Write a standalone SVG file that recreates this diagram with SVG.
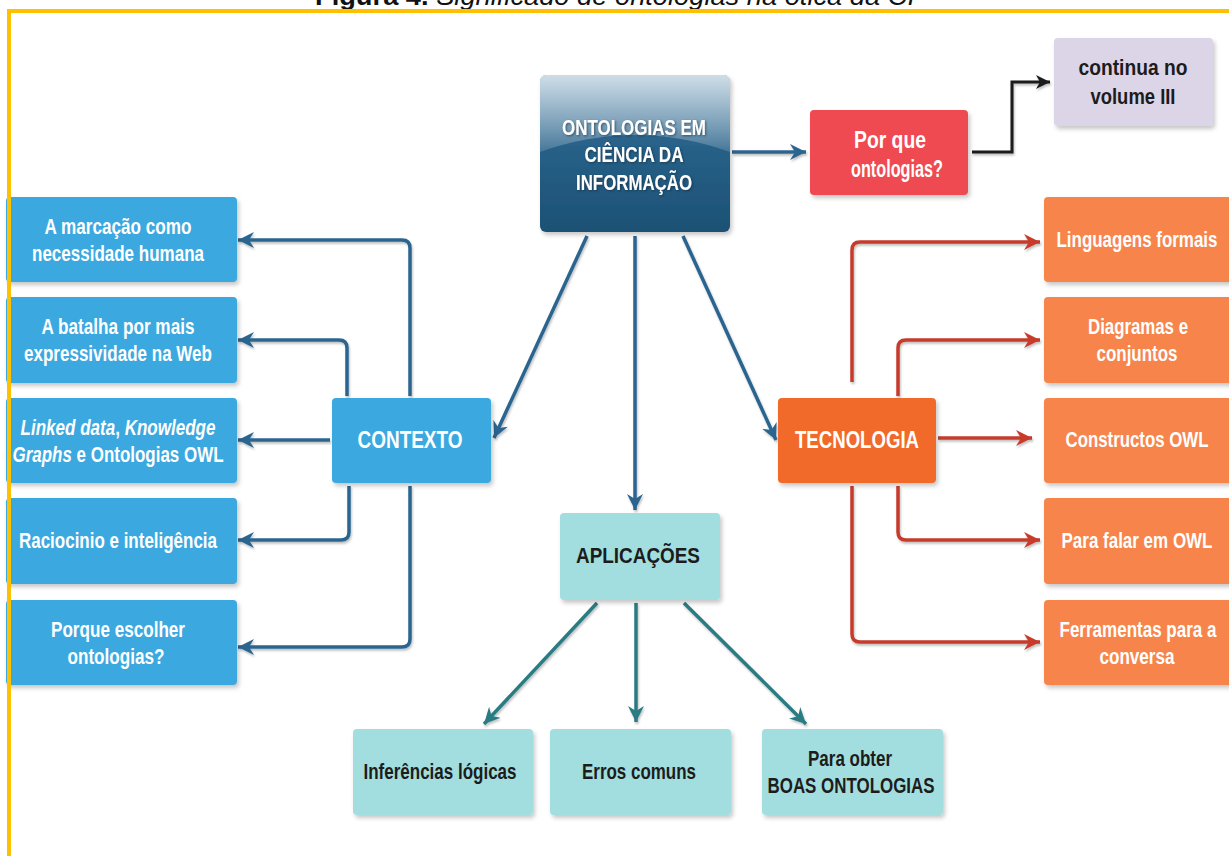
<svg xmlns="http://www.w3.org/2000/svg" width="1229" height="856" viewBox="0 0 1229 856">
  <defs>
    <style>
      .t { font-family: "Liberation Sans", Arial, sans-serif; font-weight: bold; text-anchor: middle; font-size: 22px; }
      .big { font-size: 24px; }
      .w { fill: #ffffff; }
      .d { fill: #1c1c1c; }
      .blue { fill: #3aa8df; }
      .orange { fill: #f7854b; }
      .teal { fill: #a2dedf; }
      .cb { fill: none; stroke: #2b6590; stroke-width: 3.5; stroke-linejoin: round; }
      .cr { fill: none; stroke: #c73a2c; stroke-width: 3.5; stroke-linejoin: round; }
      .ct { fill: none; stroke: #2a7b83; stroke-width: 3.5; }
      .ck { fill: none; stroke: #1a1a1a; stroke-width: 3; }
    </style>
    <filter id="shadow" x="-10%" y="-10%" width="125%" height="130%">
      <feDropShadow dx="2" dy="3" stdDeviation="2" flood-color="#000" flood-opacity="0.22"/>
    </filter>
    <filter id="lshadow" x="-10%" y="-10%" width="120%" height="120%">
      <feDropShadow dx="1" dy="2" stdDeviation="1.2" flood-color="#000" flood-opacity="0.25"/>
    </filter>
    <filter id="tshadow" x="-10%" y="-30%" width="120%" height="160%">
      <feDropShadow dx="1" dy="1" stdDeviation="0.8" flood-color="#0b2536" flood-opacity="0.6"/>
    </filter>
    <linearGradient id="hubBase" x1="0" y1="0" x2="0" y2="1">
      <stop offset="0" stop-color="#3d78a0"/>
      <stop offset="0.5" stop-color="#265f86"/>
      <stop offset="1" stop-color="#1c5174"/>
    </linearGradient>
    <linearGradient id="hubGloss" x1="0" y1="0" x2="0" y2="1">
      <stop offset="0" stop-color="#ffffff" stop-opacity="0.75"/>
      <stop offset="1" stop-color="#ffffff" stop-opacity="0.15"/>
    </linearGradient>
    <marker id="ab" markerUnits="userSpaceOnUse" markerWidth="18" markerHeight="18" refX="16" refY="9" orient="auto">
      <path d="M0,1 L16,9 L0,17 L5,9 Z" fill="#2b6590"/>
    </marker>
    <marker id="ar" markerUnits="userSpaceOnUse" markerWidth="18" markerHeight="18" refX="16" refY="9" orient="auto">
      <path d="M0,1 L16,9 L0,17 L5,9 Z" fill="#c73a2c"/>
    </marker>
    <marker id="at" markerUnits="userSpaceOnUse" markerWidth="18" markerHeight="18" refX="16" refY="9" orient="auto">
      <path d="M0,1 L16,9 L0,17 L5,9 Z" fill="#2a7b83"/>
    </marker>
    <marker id="ak" markerUnits="userSpaceOnUse" markerWidth="16" markerHeight="16" refX="14" refY="8" orient="auto">
      <path d="M0,1 L14,8 L0,15 L4,8 Z" fill="#1a1a1a"/>
    </marker>
  </defs>

  <rect width="1229" height="856" fill="#ffffff"/>

  <!-- caption, clipped at the top edge -->
  <text x="315" y="5" font-family="Liberation Sans, Arial, sans-serif" font-size="26" fill="#111" textLength="600" lengthAdjust="spacingAndGlyphs"><tspan font-weight="bold">Figura 4.</tspan><tspan font-style="italic"> Significado de ontologias na ótica da CI</tspan></text>

  <!-- connectors -->
  <g id="connectors" filter="url(#lshadow)">
    <path class="cb" d="M732,152 H806" marker-end="url(#ab)"/>
    <path class="cb" d="M587,236 L494,438" marker-end="url(#ab)"/>
    <path class="cb" d="M635,236 V510" marker-end="url(#ab)"/>
    <path class="cb" d="M683,236 L776,440" marker-end="url(#ab)"/>
    <path class="ck" d="M972,152 H1012 V82 H1050" marker-end="url(#ak)"/>

    <path class="cb" d="M410,396 V248 Q410,240 402,240 H238" marker-end="url(#ab)"/>
    <path class="cb" d="M347,396 V348 Q347,340 339,340 H238" marker-end="url(#ab)"/>
    <path class="cb" d="M330,440 H238" marker-end="url(#ab)"/>
    <path class="cb" d="M349,486 V532 Q349,540 341,540 H238" marker-end="url(#ab)"/>
    <path class="cb" d="M410,486 V639 Q410,647 402,647 H238" marker-end="url(#ab)"/>

    <path class="cr" d="M852,382 V250 Q852,242 860,242 H1040" marker-end="url(#ar)"/>
    <path class="cr" d="M898,396 V348 Q898,340 906,340 H1040" marker-end="url(#ar)"/>
    <path class="cr" d="M938,438 H1032" marker-end="url(#ar)"/>
    <path class="cr" d="M898,486 V532 Q898,540 906,540 H1040" marker-end="url(#ar)"/>
    <path class="cr" d="M852,486 V634 Q852,642 860,642 H1040" marker-end="url(#ar)"/>

    <path class="ct" d="M597,603 L484,724" marker-end="url(#at)"/>
    <path class="ct" d="M636,603 V722" marker-end="url(#at)"/>
    <path class="ct" d="M684,603 L806,724" marker-end="url(#at)"/>
  </g>

  <!-- central topic -->
  <g id="hub">
    <rect x="540" y="75" width="190" height="157" rx="6" fill="url(#hubBase)" filter="url(#shadow)"/>
    <path d="M546,75 H724 Q730,75 730,81 V152 Q635,118 540,152 V81 Q540,75 546,75 Z" fill="url(#hubGloss)"/>
    <g filter="url(#tshadow)">
      <text class="t w" x="634" y="135" textLength="144" lengthAdjust="spacingAndGlyphs">ONTOLOGIAS EM</text>
      <text class="t w" x="634" y="162" textLength="99" lengthAdjust="spacingAndGlyphs">CIÊNCIA DA</text>
      <text class="t w" x="634" y="190" textLength="116" lengthAdjust="spacingAndGlyphs">INFORMAÇÃO</text>
    </g>
  </g>

  <g id="porque">
    <rect x="810" y="110" width="158" height="85" rx="4" fill="#ef4a51" filter="url(#shadow)"/>
    <text class="t w big" x="890" y="148" textLength="72" lengthAdjust="spacingAndGlyphs">Por que</text>
    <text class="t w big" x="897" y="177" textLength="92" lengthAdjust="spacingAndGlyphs">ontologias?</text>
  </g>

  <g id="continua">
    <rect x="1054" y="38" width="159" height="88" rx="4" fill="#dcd4e7" filter="url(#shadow)"/>
    <text class="t d" x="1133" y="75" textLength="109" lengthAdjust="spacingAndGlyphs">continua no</text>
    <text class="t d" x="1133" y="104" textLength="85" lengthAdjust="spacingAndGlyphs">volume III</text>
  </g>

  <!-- context branch -->
  <g id="contexto">
    <rect x="332" y="398" width="159" height="85" rx="4" class="blue" filter="url(#shadow)"/>
    <text class="t w big" x="410" y="448" textLength="105" lengthAdjust="spacingAndGlyphs">CONTEXTO</text>
  </g>
  <g id="ctx1">
    <rect x="6" y="197" width="231" height="85" rx="4" class="blue" filter="url(#shadow)"/>
    <text class="t w" x="118" y="234" textLength="147" lengthAdjust="spacingAndGlyphs">A marcação como</text>
    <text class="t w" x="118" y="261" textLength="172" lengthAdjust="spacingAndGlyphs">necessidade humana</text>
  </g>
  <g id="ctx2">
    <rect x="6" y="297" width="231" height="86" rx="4" class="blue" filter="url(#shadow)"/>
    <text class="t w" x="118" y="334" textLength="153" lengthAdjust="spacingAndGlyphs">A batalha por mais</text>
    <text class="t w" x="118" y="361" textLength="188" lengthAdjust="spacingAndGlyphs">expressividade na Web</text>
  </g>
  <g id="ctx3">
    <rect x="6" y="398" width="231" height="85" rx="4" class="blue" filter="url(#shadow)"/>
    <text class="t w" x="118" y="435" textLength="195" lengthAdjust="spacingAndGlyphs"><tspan font-style="italic">Linked data</tspan>, <tspan font-style="italic">Knowledge</tspan></text>
    <text class="t w" x="118" y="462" textLength="211" lengthAdjust="spacingAndGlyphs"><tspan font-style="italic">Graphs</tspan> e Ontologias OWL</text>
  </g>
  <g id="ctx4">
    <rect x="6" y="498" width="231" height="86" rx="4" class="blue" filter="url(#shadow)"/>
    <text class="t w" x="118" y="548" textLength="198" lengthAdjust="spacingAndGlyphs">Raciocinio e inteligência</text>
  </g>
  <g id="ctx5">
    <rect x="6" y="600" width="231" height="85" rx="4" class="blue" filter="url(#shadow)"/>
    <text class="t w" x="118" y="637" textLength="134" lengthAdjust="spacingAndGlyphs">Porque escolher</text>
    <text class="t w" x="116" y="664" textLength="97" lengthAdjust="spacingAndGlyphs">ontologias?</text>
  </g>

  <!-- technology branch -->
  <g id="tecnologia">
    <rect x="778" y="398" width="158" height="85" rx="4" fill="#f26b2c" filter="url(#shadow)"/>
    <text class="t w big" x="857" y="448" textLength="124" lengthAdjust="spacingAndGlyphs">TECNOLOGIA</text>
  </g>
  <g id="tec1">
    <rect x="1044" y="197" width="192" height="85" rx="4" class="orange" filter="url(#shadow)"/>
    <text class="t w" x="1137" y="247" textLength="161" lengthAdjust="spacingAndGlyphs">Linguagens formais</text>
  </g>
  <g id="tec2">
    <rect x="1044" y="297" width="192" height="86" rx="4" class="orange" filter="url(#shadow)"/>
    <text class="t w" x="1138" y="334" textLength="100" lengthAdjust="spacingAndGlyphs">Diagramas e</text>
    <text class="t w" x="1137" y="361" textLength="81" lengthAdjust="spacingAndGlyphs">conjuntos</text>
  </g>
  <g id="tec3">
    <rect x="1044" y="398" width="192" height="85" rx="4" class="orange" filter="url(#shadow)"/>
    <text class="t w" x="1137" y="447" textLength="143" lengthAdjust="spacingAndGlyphs">Constructos OWL</text>
  </g>
  <g id="tec4">
    <rect x="1044" y="498" width="192" height="86" rx="4" class="orange" filter="url(#shadow)"/>
    <text class="t w" x="1137" y="548" textLength="151" lengthAdjust="spacingAndGlyphs">Para falar em OWL</text>
  </g>
  <g id="tec5">
    <rect x="1044" y="600" width="192" height="85" rx="4" class="orange" filter="url(#shadow)"/>
    <text class="t w" x="1138" y="637" textLength="157" lengthAdjust="spacingAndGlyphs">Ferramentas para a</text>
    <text class="t w" x="1137" y="664" textLength="75" lengthAdjust="spacingAndGlyphs">conversa</text>
  </g>

  <!-- applications branch -->
  <g id="aplicacoes">
    <rect x="560" y="513" width="160" height="87" rx="4" class="teal" filter="url(#shadow)"/>
    <text class="t d" x="638" y="563" textLength="124" lengthAdjust="spacingAndGlyphs">APLICAÇÕES</text>
  </g>
  <g id="apl1">
    <rect x="353" y="729" width="180" height="86" rx="4" class="teal" filter="url(#shadow)"/>
    <text class="t d" x="440" y="779" textLength="153" lengthAdjust="spacingAndGlyphs">Inferências lógicas</text>
  </g>
  <g id="apl2">
    <rect x="550" y="729" width="181" height="86" rx="4" class="teal" filter="url(#shadow)"/>
    <text class="t d" x="639" y="779" textLength="114" lengthAdjust="spacingAndGlyphs">Erros comuns</text>
  </g>
  <g id="apl3">
    <rect x="762" y="729" width="181" height="86" rx="4" class="teal" filter="url(#shadow)"/>
    <text class="t d" x="850" y="766" textLength="84" lengthAdjust="spacingAndGlyphs">Para obter</text>
    <text class="t d" x="851" y="793" textLength="167" lengthAdjust="spacingAndGlyphs">BOAS ONTOLOGIAS</text>
  </g>

  <!-- figure frame -->
  <path d="M9,870 V11 H1240" fill="none" stroke="#ffc000" stroke-width="4"/>
</svg>
